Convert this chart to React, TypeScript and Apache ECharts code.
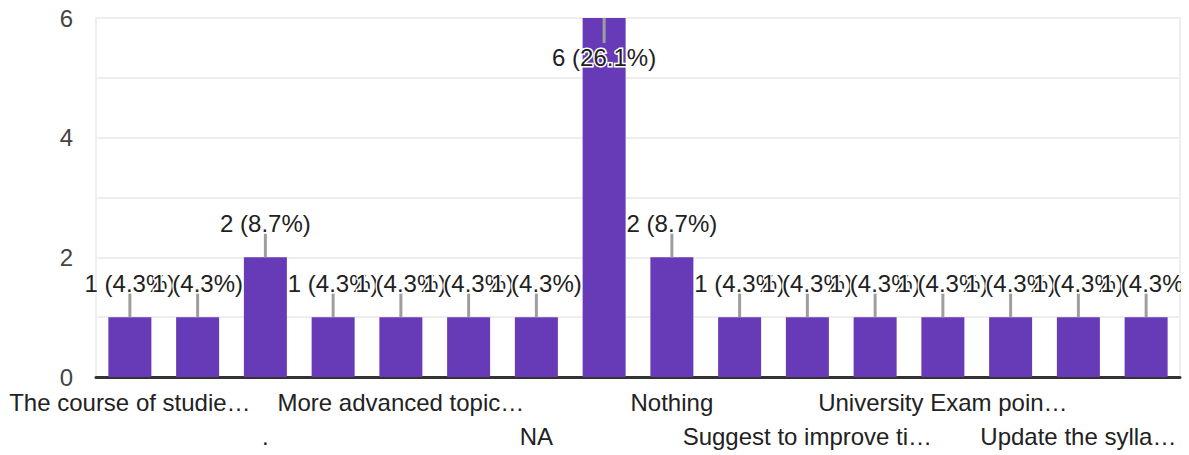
import React, { useEffect, useRef } from "react";
import * as echarts from "echarts";

const categories = [
  "The course of studie…",
  "Add more practicals",
  ".",
  "Include case studies",
  "More advanced topic…",
  "More lab sessions",
  "NA",
  "No",
  "Nothing",
  "Good course",
  "Suggest to improve ti…",
  "More examples",
  "University Exam poin…",
  "Industry visits",
  "Update the sylla…",
  "Everything is fine",
];
const values = [1, 1, 2, 1, 1, 1, 1, 6, 2, 1, 1, 1, 1, 1, 1, 1];
const yTickLabels = ["0", "", "2", "", "4", "", "6"];

const FONT = "'Liberation Sans', Arial, 'DejaVu Sans', sans-serif";

export default function App() {
  const ref = useRef<HTMLDivElement>(null);
  useEffect(() => {
    if (!ref.current) return;
    const chart = echarts.init(ref.current, undefined, { renderer: "svg" });
    const total = values.reduce((a, b) => a + b, 0);
    const maxVal = Math.max(...values);
    const labelBase = {
      margin: 13,
      color: "#222222",
      fontSize: 24,
      fontFamily: FONT,
      hideOverlap: false,
    };
    chart.setOption({
      animation: false,
      grid: {
        left: 96,
        right: 9,
        top: 18,
        bottom: 78,
        containLabel: false,
        outerBoundsMode: "none",
        show: true,
        borderColor: "#eeeeee",
        borderWidth: 2,
      },
      graphic: [
        {
          type: "rect",
          z: 100,
          right: 0,
          top: 262,
          shape: { width: 8, height: 44 },
          style: { fill: "#ffffff" },
        },
      ],
      xAxis: [
        {
          type: "category",
          data: categories,
          axisTick: { show: false },
          axisLine: { show: true, lineStyle: { color: "#333333", width: 3 } },
          splitLine: { show: false },
          axisLabel: {
            ...labelBase,
            interval: (index: number) => index % 4 === 0,
          },
        },
        {
          type: "category",
          data: categories,
          position: "bottom",
          offset: 34,
          axisTick: { show: false },
          axisLine: { show: false },
          splitLine: { show: false },
          axisLabel: {
            ...labelBase,
            interval: (index: number) => index % 4 === 2,
          },
        },
      ],
      yAxis: {
        type: "value",
        min: 0,
        max: 6,
        interval: 1,
        axisLine: { show: false },
        axisTick: { show: false },
        splitLine: { show: true, lineStyle: { color: "#eeeeee", width: 2 } },
        axisLabel: {
          margin: 23,
          color: "#444444",
          fontSize: 24,
          fontFamily: FONT,
          formatter: (v: number) => yTickLabels[Math.round(v)] ?? "",
        },
      },
      series: [
        {
          type: "bar",
          xAxisIndex: 0,
          data: values,
          barWidth: 43,
          z: 2,
          itemStyle: { color: "#673ab7" },
          label: { show: false },
        },
        {
          type: "custom",
          xAxisIndex: 0,
          z: 3,
          data: values.map((v, i) => [i, v]),
          encode: { x: 0, y: 1 },
          renderItem: (params: any, api: any) => {
            const i = api.value(0);
            const v = api.value(1);
            const p = api.coord([i, v]);
            const isMax = v === maxVal;
            const lineEnd = isMax ? p[1] + 25 : p[1] - 24;
            const textY = isMax ? p[1] + 39 : p[1] - 34;
            const pct = ((v / total) * 100).toFixed(1);
            return {
              type: "group",
              children: [
                {
                  type: "line",
                  z2: 1,
                  shape: { x1: p[0], y1: p[1], x2: p[0], y2: lineEnd },
                  style: { stroke: "#9e9e9e", lineWidth: 3 },
                },
                {
                  type: "text",
                  z2: 10,
                  x: p[0],
                  y: textY,
                  style: {
                    text: `${v} (${pct}%)`,
                    fill: "#212121",
                    stroke: "#ffffff",
                    lineWidth: 3,
                    fontSize: 24,
                    fontFamily: FONT,
                    align: "center",
                    verticalAlign: "middle",
                  },
                },
              ],
            };
          },
        },
      ],
    });
    return () => chart.dispose();
  }, []);
  return (
    <div
      ref={ref}
      style={{ position: "absolute", left: 0, top: 0, width: 1189, height: 455 }}
    />
  );
}
